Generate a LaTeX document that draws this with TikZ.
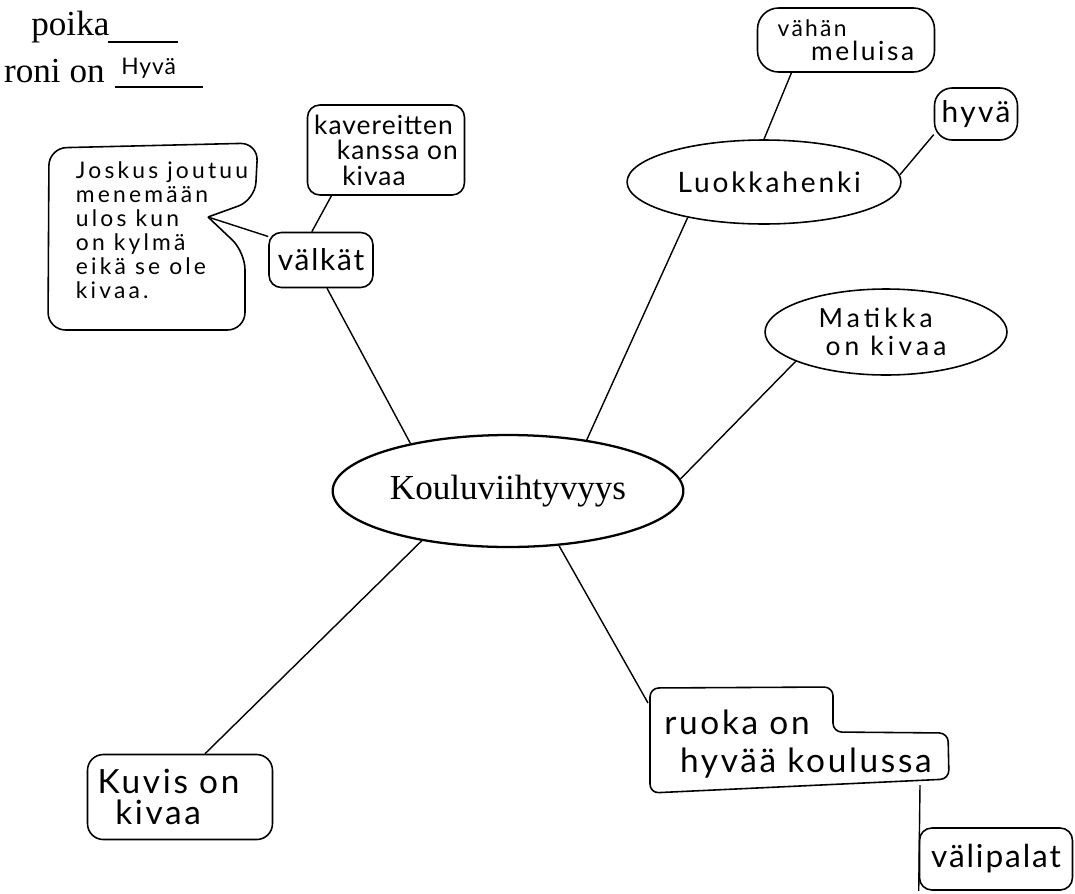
\documentclass[tikz,border=0pt]{standalone}
\usepackage{fontspec}
\setmainfont{Liberation Serif}
\newfontfamily\handfont{Lato}
\newcommand\hw[3]{\handfont\addfontfeatures{LetterSpace=#2}\fontsize{#1}{#3}\selectfont}
\usetikzlibrary{shapes.geometric}

\begin{document}
\begin{tikzpicture}[x=0.02cm,y=0.02cm,
  box/.style={draw, line width=0.9pt, rounded corners=7pt, inner sep=1pt, align=left},
  blob/.style={draw, line width=0.9pt, ellipse, inner sep=0pt, align=left},
  link/.style={line width=0.8pt}]
\useasboundingbox (0,0) rectangle (1075,-893);

% otsikkorivit
\node[anchor=base west, font=\fontsize{20}{22}\selectfont, inner sep=0pt] (poika) at (31,-35) {poika};
\node[anchor=base east, font=\fontsize{20}{22}\selectfont, inner sep=0pt] (roni) at (105,-82) {roni on};
\node[anchor=base west, font=\hw{13}{4}{14}, inner sep=0pt] (roniarvo) at (121,-74) {Hyvä};
\draw[line width=0.7pt] (108,-42) -- (178,-42);
\draw[line width=0.7pt] (115,-87) -- (203,-87);

% keskus
\node[draw, ellipse, line width=1.3pt, minimum width=7cm, minimum height=2.24cm,
      font=\fontsize{20}{22}\selectfont] (centre) at (508,-491) {Kouluviihtyvyys};

% vasen haara
\node[box, minimum width=2.08cm, minimum height=1.1cm, font=\hw{17}{6}{18}] (valkat) at (321,-260) {välkät};
\node[box, minimum width=3.14cm, minimum height=1.8cm, font=\hw{15}{4}{14.5}] (kaverit) at (386,-150)
  {kavereitten\\ \hspace*{13pt}kanssa on\\ \hspace*{16pt}kivaa};
\draw[line width=0.9pt, rounded corners=10pt]
  (208,-217) -- (255,-200) -- (258,-143) -- (49,-148) -- (48,-330) -- (245,-330) -- (245,-252) -- (208,-217);
\coordinate (kupla) at (208,-217);
\node[font=\hw{13}{14}{13.6}, align=left, inner sep=0pt] (joskus) at (162,-230)
  {Joskus joutuu\\ menemään\\ ulos kun\\ on kylmä\\ eikä se ole\\ kivaa.};
\draw[link] (centre.154) -- (valkat.-78);
\draw[link] (valkat.108) -- (kaverit.-140);
\draw[link] (kupla) -- (valkat.156);

% oikea ylä
\node[blob, minimum width=4.52cm, minimum height=1.68cm, font=\hw{16}{10}{18}] (luokka) at (764,-182) {\hspace*{6pt}Luokkahenki};
\node[box, rounded corners=12pt, minimum width=3.54cm, minimum height=1.28cm, font=\hw{15}{10}{13.5}] (vahan) at (846,-40)
  {{\fontsize{13}{13}\selectfont vähän}\\ \hspace*{19pt}meluisa};
\node[box, rounded corners=10pt, minimum width=1.66cm, minimum height=1.04cm, font=\hw{17}{8}{18}] (hyva) at (976,-114) {hyvä};
\node[blob, minimum width=4.84cm, minimum height=1.72cm, font=\hw{15}{16}{15.5}] (matikka) at (886,-332)
  {\hspace*{-4pt}Matikka\\ on kivaa};
\draw[link] (centre.33) -- (luokka.-155);
\draw[link] (luokka.north) -- (vahan.-149);
\draw[link] (luokka.3) -- (hyva.-154);
\draw[link] (centre.4) -- (matikka.-162);

% alaosa
\draw[line width=0.9pt, rounded corners=5pt]
  (650,-688) -- (833,-687) -- (833,-732) -- (948,-733) -- (949,-779) -- (650,-793) -- cycle;
\coordinate (ruokayla) at (648,-703);
\coordinate (ruokaala) at (920,-785);
\node[font=\hw{19}{8}{22}, align=left, inner sep=0pt] (ruoka) at (798,-744)
  {ruoka on\\ \hspace*{9pt}hyvää koulussa};
\node[box, minimum width=3.06cm, minimum height=1.24cm, font=\hw{18}{6}{18}] (valipalat) at (996,-859) {välipalat};
\node[box, rounded corners=9pt, minimum width=3.7cm, minimum height=1.7cm, font=\hw{19}{8}{18}] (kuvis) at (180,-797)
  {Kuvis on\hspace*{13pt}\\ \hspace*{10pt}kivaa};
\draw[link] (centre.-47) -- (ruokayla);
\draw[link] (ruokaala) -- (valipalat.south west);
\draw[link] (centre.-150) -- (kuvis.60);
\end{tikzpicture}
\end{document}
